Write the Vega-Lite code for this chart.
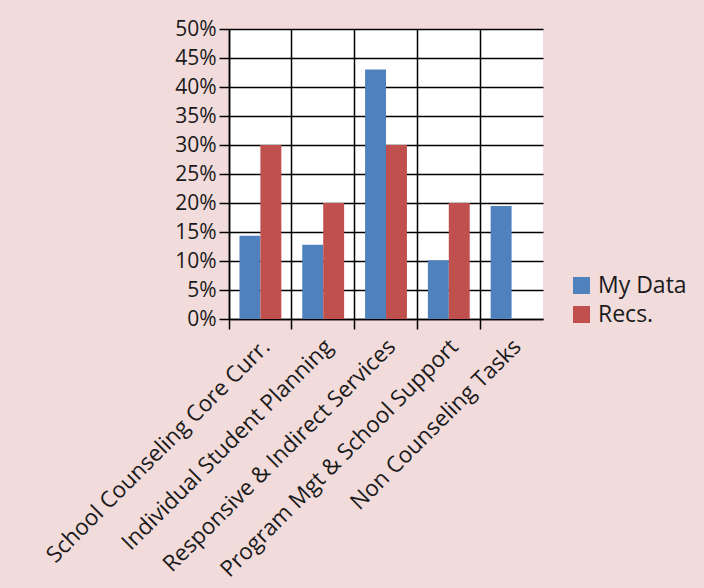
{
  "$schema": "https://vega.github.io/schema/vega-lite/v6.json",
  "autosize": "none",
  "width": 314,
  "height": 290,
  "padding": {"left": 229, "top": 29, "right": 161, "bottom": 269},
  "background": "#F2DCDB",
  "config": {
    "view": {"fill": "white", "stroke": null},
    "font": "Open Sans"
  },
  "data": {
    "values": [
      {"category": "School Counseling Core Curr.", "series": "My Data", "value": 0.1435},
      {"category": "School Counseling Core Curr.", "series": "Recs.", "value": 0.30},
      {"category": "Individual Student Planning", "series": "My Data", "value": 0.128},
      {"category": "Individual Student Planning", "series": "Recs.", "value": 0.20},
      {"category": "Responsive & Indirect Services", "series": "My Data", "value": 0.43},
      {"category": "Responsive & Indirect Services", "series": "Recs.", "value": 0.30},
      {"category": "Program Mgt & School Support", "series": "My Data", "value": 0.1015},
      {"category": "Program Mgt & School Support", "series": "Recs.", "value": 0.20},
      {"category": "Non Counseling Tasks", "series": "My Data", "value": 0.195},
      {"category": "Non Counseling Tasks", "series": "Recs.", "value": 0}
    ]
  },
  "mark": {"type": "bar"},
  "encoding": {
    "x": {
      "field": "category",
      "type": "nominal",
      "sort": null,
      "scale": {"paddingInner": 0, "paddingOuter": 0},
      "axis": {
        "title": null,
        "bandPosition": 0,
        "grid": true,
        "gridColor": "black",
        "gridWidth": 1.5,
        "gridOpacity": 1,
        "domainColor": "black",
        "domainWidth": 1.5,
        "tickColor": "black",
        "tickWidth": 1.5,
        "tickSize": 10,
        "labelAngle": -45,
        "labelFontSize": 22.5,
        "labelColor": "#1a1a1a",
        "labelPadding": 6,
        "labelOffset": -2,
        "labelLimit": 400
      }
    },
    "xOffset": {
      "field": "series",
      "type": "nominal",
      "scale": {"paddingOuter": 0.5, "paddingInner": 0}
    },
    "y": {
      "field": "value",
      "type": "quantitative",
      "scale": {"domain": [0, 0.5], "nice": false},
      "axis": {
        "title": null,
        "format": ".0%",
        "values": [0, 0.05, 0.1, 0.15, 0.2, 0.25, 0.3, 0.35, 0.4, 0.45, 0.5],
        "grid": true,
        "gridColor": "black",
        "gridWidth": 1.5,
        "gridOpacity": 1,
        "domainColor": "black",
        "domainWidth": 1.5,
        "tickColor": "black",
        "tickWidth": 1.5,
        "tickSize": 10,
        "labelFontSize": 21,
        "labelColor": "#1a1a1a",
        "labelPadding": 3
      }
    },
    "color": {
      "field": "series",
      "type": "nominal",
      "scale": {"domain": ["My Data", "Recs."], "range": ["#4F81BD", "#C0504D"]},
      "legend": {
        "title": null,
        "orient": "none",
        "legendX": 341,
        "legendY": 245,
        "symbolType": "square",
        "symbolSize": 289,
        "symbolStrokeWidth": 0,
        "labelFontSize": 23,
        "labelColor": "#1a1a1a",
        "labelOffset": 5,
        "rowPadding": 5,
        "symbolOpacity": 1
      }
    }
  }
}
